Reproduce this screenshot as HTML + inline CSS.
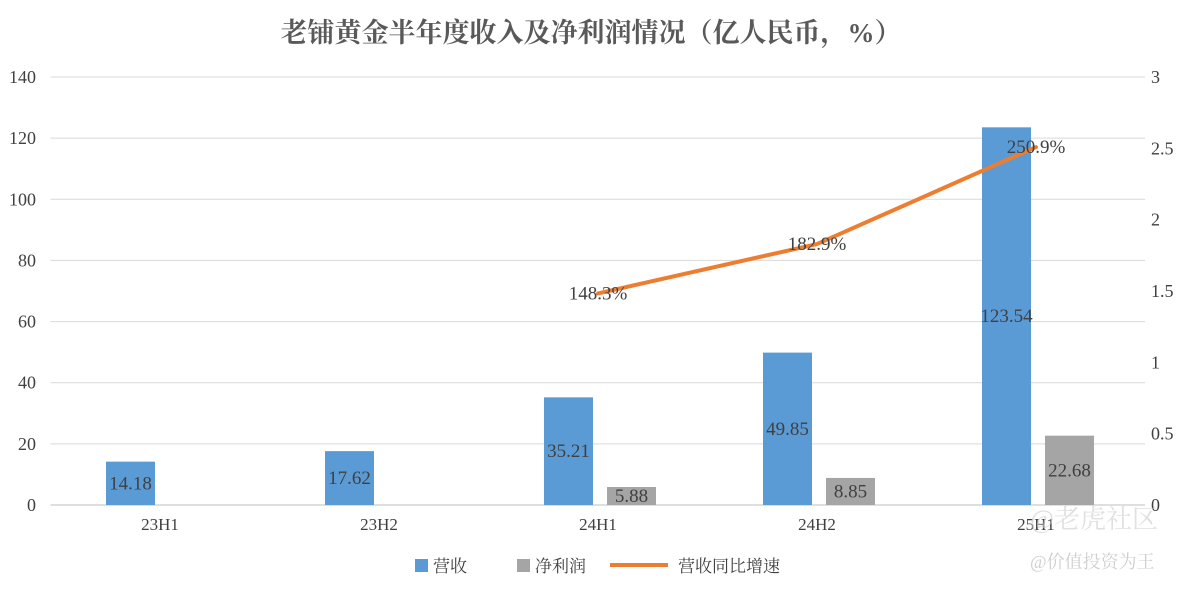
<!DOCTYPE html>
<html><head><meta charset="utf-8"><style>
body{margin:0;background:#fff;}
svg text{font-family:"Liberation Serif","Noto Serif CJK SC",serif;}
</style></head><body>
<svg id="chart" width="1200" height="588" xmlns="http://www.w3.org/2000/svg">
<text x="591" y="42" text-anchor="middle" font-size="27" font-weight="bold" fill="#595959">老铺黄金半年度收入及净利润情况（亿人民币，%）</text>
<g id="grid"></g><g id="bars"></g><g id="line"></g><g id="labels"></g>
<g>
<rect x="415" y="559" width="13" height="13" fill="#5b9bd5"/>
<text x="433" y="572" font-size="17" fill="#404040">营收</text>
<rect x="517" y="559" width="13" height="13" fill="#a5a5a5"/>
<text x="535" y="572" font-size="17" fill="#404040">净利润</text>
<line x1="610" y1="565" x2="668" y2="565" stroke="#ed7d31" stroke-width="4"/>
<text x="678" y="572" font-size="17" fill="#404040">营收同比增速</text>
</g>
<text x="1030" y="528" font-size="26" fill="#ccc" opacity="0.6">@老虎社区</text>
<text x="1030" y="568" font-size="18" fill="#bbb" opacity="0.7">@价值投资为王</text>
</svg>
<script>
const categories=["23H1","23H2","24H1","24H2","25H1"];
const revenue=[14.18,17.62,35.21,49.85,123.54];
const profit=[null,null,5.88,8.85,22.68];
const growth=[null,null,1.483,1.829,2.509];
const leftTicks=[0,20,40,60,80,100,120,140];
const rightTicks=[0,0.5,1,1.5,2,2.5,3];
const NS="http://www.w3.org/2000/svg";
const x0=50.5,bw=219,yb=505,yt=77;
const yL=v=>yb-(v/140)*(yb-yt);
const yR=v=>yb-(v/3)*(yb-yt);
const xc=i=>x0+bw*(i+0.5);
function mk(tag,attrs,parent,txt){const e=document.createElementNS(NS,tag);for(const k in attrs)e.setAttribute(k,attrs[k]);if(txt!=null)e.textContent=txt;document.getElementById(parent).appendChild(e);return e;}
leftTicks.forEach(t=>{
 const l=mk('line',{x1:x0,x2:1145,y1:yL(t),y2:yL(t),stroke:t===0?'#bfbfbf':'#d9d9d9','stroke-width':1},'grid');
 
 
 const tx=mk('text',{x:36,y:yL(t)+6,'text-anchor':'end','font-size':18,fill:'#404040'},'grid',t);
 
 
});
rightTicks.forEach(t=>{
 const tx=mk('text',{x:1151,y:yR(t)+6,'font-size':18,fill:'#404040'},'grid',t);
 
 
});
categories.forEach((c,i)=>{
 const tx=mk('text',{x:xc(i),y:530,'text-anchor':'middle','font-size':17,fill:'#404040'},'grid',c);
 
 
 const bx=xc(i)-54;
 const r=mk('rect',{x:bx,y:yL(revenue[i]),width:49,height:yb-yL(revenue[i]),fill:'#5b9bd5'},'bars');
 
 
 const lt=mk('text',{x:bx+24.5,y:(yL(revenue[i])+yb)/2+6,'text-anchor':'middle','font-size':19,fill:'#404040'},'labels',revenue[i].toFixed(2));
 
 
 if(profit[i]!=null){
  const px=xc(i)+9;
  const p=mk('rect',{x:px,y:yL(profit[i]),width:49,height:yb-yL(profit[i]),fill:'#a5a5a5'},'bars');
  
  
  const pt=mk('text',{x:px+24.5,y:(yL(profit[i])+yb)/2+6,'text-anchor':'middle','font-size':19,fill:'#404040'},'labels',profit[i].toFixed(2));
  
  
 }
});
const pts=[];growth.forEach((g,i)=>{if(g!=null)pts.push([xc(i),yR(g),g]);});
const pl=mk('polyline',{points:pts.map(p=>p[0]+','+p[1]).join(' '),fill:'none',stroke:'#ed7d31','stroke-width':4,'stroke-linejoin':'round','stroke-linecap':'round'},'line');


pts.forEach(p=>{
 const t=mk('text',{x:p[0],y:p[1]+6,'text-anchor':'middle','font-size':19,fill:'#404040'},'labels',(p[2]*100).toFixed(1)+'%');
 
 
});
</script>
</body></html>
